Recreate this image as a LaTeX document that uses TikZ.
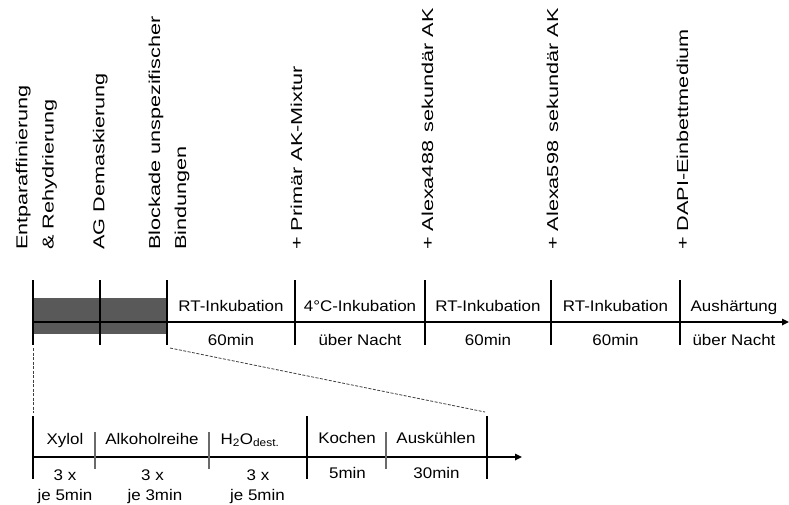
\documentclass[tikz,border=0pt]{standalone}
\usepackage{fontspec}
\usepackage{graphicx}
\setmainfont{Liberation Sans}
\usetikzlibrary{arrows.meta}
\newcommand\vstr[1]{\scalebox{1.37}[1]{#1}}
\newcommand\hstr[1]{\scalebox{1.1}[1]{#1}}
\definecolor{blockgray}{HTML}{595959}
\definecolor{ticgray}{HTML}{6A6A6A}
\definecolor{dashgray}{HTML}{404040}
\tikzset{
  vlab/.style={rotate=90, anchor=base west, inner sep=0pt, font=\fontsize{15.8}{18}\selectfont},
  hlab/.style={anchor=base, inner sep=0pt, font=\fontsize{15.4}{18}\selectfont},
  timeaxis/.style={line width=1.6pt, -{Triangle[length=7pt,width=6.5pt]}},
  majortick/.style={line width=1.7pt},
  minortick/.style={line width=1.4pt, draw=ticgray},
  zoomline/.style={draw=dashgray, line width=0.8pt, dash pattern=on 3pt off 1.5pt},
  blockfill/.style={fill=blockgray}
}
\begin{document}
\begin{tikzpicture}[x=1pt,y=-1pt]
\useasboundingbox (0,0) rectangle (789,504);

% ---------- vertical labels ----------
\node[vlab] (l1a) at (27.3,250) {\vstr{Entparaffinierung}};
\node[vlab] (l1b) at (53.5,250) {\vstr{\& Rehydrierung}};
\node[vlab] (l2)  at (104.3,250) {\vstr{AG Demaskierung}};
\node[vlab] (l3a) at (160,250) {\vstr{Blockade unspezifischer}};
\node[vlab] (l3b) at (186,250) {\vstr{Bindungen}};
\node[vlab] (l4)  at (302,250) {\vstr{+ Primär AK-Mixtur}};
\node[vlab] (l5)  at (433,250) {\vstr{+ Alexa488\hspace{2pt} sekundär AK}};
\node[vlab] (l6)  at (558,250) {\vstr{+ Alexa598\hspace{2pt} sekundär AK}};
\node[vlab] (l7)  at (688,250) {\vstr{+ DAPI-Einbettmedium}};

% ---------- top timeline ----------
\fill[blockfill] (33,298) rectangle (167,334);
\coordinate (ts) at (33,322);
\coordinate (te) at (789,322);
\draw[timeaxis] (ts) -- (te);
\foreach \n/\x in {0/33,1/100,2/167,3/295,4/425,5/551,6/680}{
  \coordinate (t\n a) at (\x,280);
  \coordinate (t\n b) at (\x,345);
  \draw[majortick] (t\n a) -- (t\n b);
}
\node[hlab] (s1) at (231,311) {\hstr{RT-Inkubation}};
\node[hlab] (d1) at (231,345) {\hstr{60min}};
\node[hlab] (s2) at (360,311) {\hstr{4°C-Inkubation}};
\node[hlab] (d2) at (360,345) {\hstr{über Nacht}};
\node[hlab] (s3) at (488,311) {\hstr{RT-Inkubation}};
\node[hlab] (d3) at (488,345) {\hstr{60min}};
\node[hlab] (s4) at (615.5,311) {\hstr{RT-Inkubation}};
\node[hlab] (d4) at (615.5,345) {\hstr{60min}};
\node[hlab] (s5) at (734,311) {\hstr{Aushärtung}};
\node[hlab] (d5) at (734,345) {\hstr{über Nacht}};

% ---------- zoom lines ----------
\coordinate (zl1) at (33,348);
\coordinate (zl2) at (33,413);
\coordinate (zr1) at (170,348);
\coordinate (zr2) at (485,412);
\draw[zoomline] (zl1) -- (zl2);
\draw[zoomline] (zr1) -- (zr2);

% ---------- bottom timeline ----------
\coordinate (bs) at (33,457);
\coordinate (be) at (522,457);
\draw[timeaxis] (bs) -- (be);
\foreach \n/\x in {0/33,1/307,2/487}{
  \coordinate (B\n a) at (\x,416);
  \coordinate (B\n b) at (\x,479);
  \draw[majortick] (B\n a) -- (B\n b);
}
\foreach \n/\x in {0/95,1/209,2/386}{
  \coordinate (m\n a) at (\x,432);
  \coordinate (m\n b) at (\x,469);
  \draw[minortick] (m\n a) -- (m\n b);
}
\node[hlab] (xy)  at (65,444)  {\hstr{Xylol}};
\node[hlab] (al)  at (152,444) {\hstr{Alkoholreihe}};
\node[hlab] (hw)  at (250,444) {\hstr{H\textsubscript{2}O\textsubscript{dest.}}};
\node[hlab] (ko)  at (347,443) {\hstr{Kochen}};
\node[hlab] (ak)  at (436,443) {\hstr{Auskühlen}};
\node[hlab] (xa)  at (65,480)  {\hstr{3 x}};
\node[hlab] (xb)  at (65,500)  {\hstr{je 5min}};
\node[hlab] (aa)  at (152.5,480) {\hstr{3 x}};
\node[hlab] (ab)  at (155,500) {\hstr{je 3min}};
\node[hlab] (ha)  at (258,480) {\hstr{3 x}};
\node[hlab] (hb)  at (257.5,500) {\hstr{je 5min}};
\node[hlab] (ka)  at (347.5,478) {\hstr{5min}};
\node[hlab] (kb)  at (436.5,478) {\hstr{30min}};
\end{tikzpicture}
\end{document}
